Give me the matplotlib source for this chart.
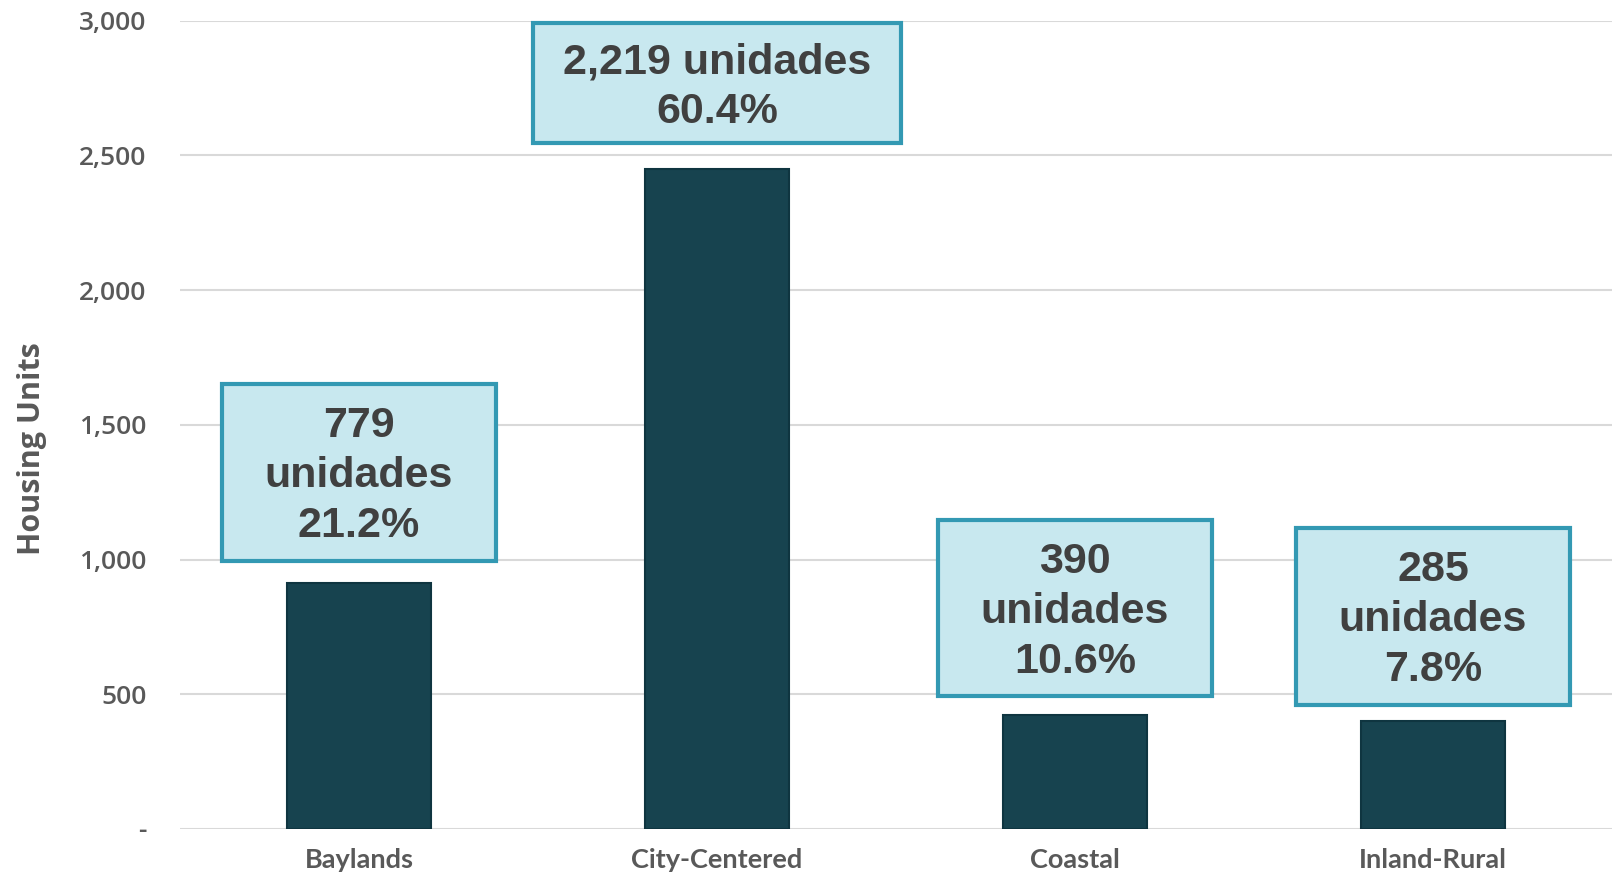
import matplotlib
matplotlib.use("Agg")
import matplotlib.pyplot as plt
from matplotlib.patches import Rectangle

# Data
categories = ["Baylands", "City-Centered", "Coastal", "Inland-Rural"]
bar_values = [913, 2450, 423, 401]
unit_counts = ["779", "2,219", "390", "285"]
shares = ["21.2%", "60.4%", "10.6%", "7.8%"]
y_ticks = [0, 500, 1000, 1500, 2000, 2500, 3000]
y_tick_labels = ["-", "500", "1,000", "1,500", "2,000", "2,500", "3,000"]

# Label box layout (data coords: half-width in category units, bottom, top)
box_layout = [
    (0.383, 995, 1652),
    (0.515, 2544, 2990),
    (0.383, 494, 1147),
    (0.383, 460, 1118),
]
label_texts = [
    f"{unit_counts[0]}\nunidades\n{shares[0]}",
    f"{unit_counts[1]} unidades\n{shares[1]}",
    f"{unit_counts[2]}\nunidades\n{shares[2]}",
    f"{unit_counts[3]}\nunidades\n{shares[3]}",
]

fig = plt.figure(figsize=(16.12, 8.76), dpi=100)
ax = fig.add_axes([180 / 1612, 1 - 829 / 876, (1612 - 180) / 1612, (829 - 20.5) / 876])

x = list(range(len(categories)))
ax.bar(x, bar_values, width=0.405, color="#17434F", edgecolor="#0F3540", linewidth=1.5, zorder=3)

ax.set_xlim(-0.5, 3.5)
ax.set_ylim(0, 3000)
ax.set_yticks(y_ticks)
ax.set_yticklabels(y_tick_labels, fontsize=19, color="#595959", family="Open Sans", fontweight="semibold")
ax.set_xticks(x)
ax.set_xticklabels(categories, fontsize=19.5, color="#595959", family="Lato", fontweight="bold")
ax.tick_params(axis="both", length=0)
ax.tick_params(axis="y", pad=24)
ax.tick_params(axis="x", pad=14)
ax.grid(axis="y", color="#D9D9D9", linewidth=1.5, zorder=0)
for s in ax.spines.values():
    s.set_visible(False)
ax.set_ylabel("Housing Units", fontsize=22, color="#595959", family="Open Sans", fontweight="bold")
ax.yaxis.set_label_coords(-0.093, 0.47)

for i, ((hw, lo, hi), txt) in enumerate(zip(box_layout, label_texts)):
    rect = Rectangle((x[i] - hw, lo), 2 * hw, hi - lo, facecolor="#C8E8EF", edgecolor="#3399B3",
                     linewidth=3, zorder=4, clip_on=False)
    ax.add_patch(rect)
    ax.text(x[i], (lo + hi) / 2 - 14, txt, ha="center", va="center", fontsize=31, fontweight="bold",
            color="#404040", family="Liberation Sans", linespacing=1.32, zorder=5)

fig.savefig("out.png", dpi=100)
